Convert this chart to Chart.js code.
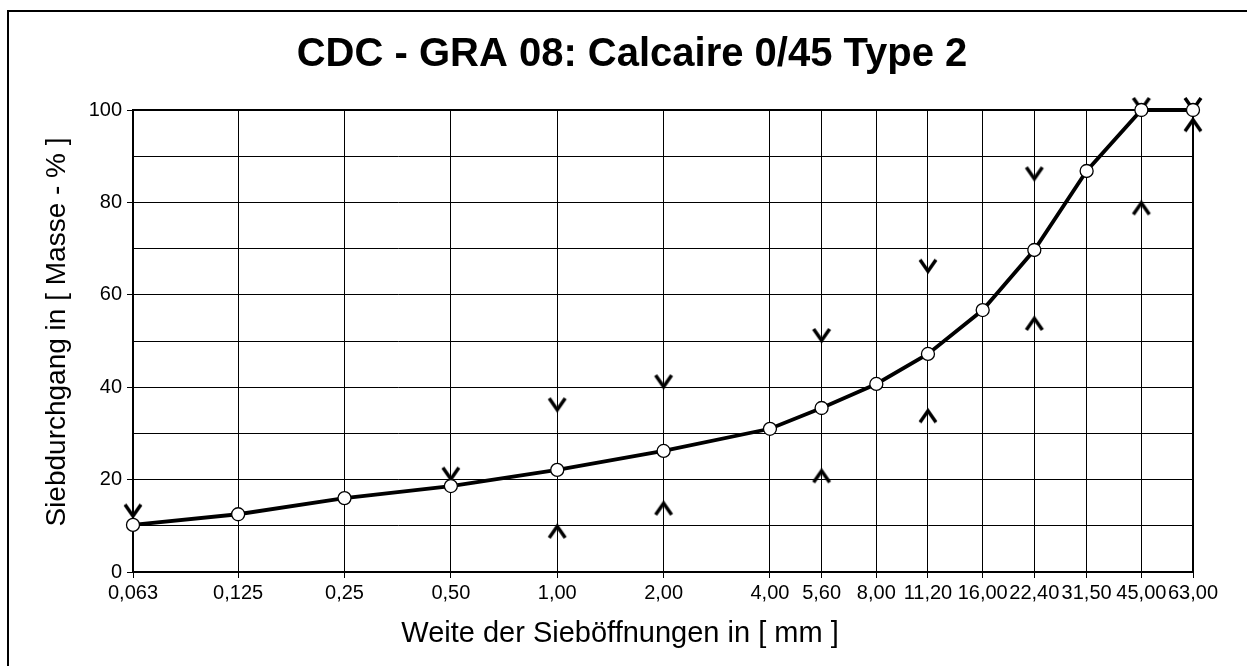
<!DOCTYPE html>
<html>
<head>
<meta charset="utf-8">
<script src="https://cdn.jsdelivr.net/npm/chart.js@4.4.1/dist/chart.umd.min.js"></script>
<style>
  html, body { margin: 0; padding: 0; background: #fff; }
</style>
</head>
<body>
<canvas id="sieveChart" width="1247" height="666"></canvas>
<script>
// ── 데이터 ──
var sieves      = [0.063, 0.125, 0.25, 0.5, 1, 2, 4, 5.6, 8, 11.2, 16, 22.4, 31.5, 45, 63];
var sieveLabels = ["0,063", "0,125", "0,25", "0,50", "1,00", "2,00", "4,00", "5,60", "8,00", "11,20", "16,00", "22,40", "31,50", "45,00", "63,00"];
var passing     = [10.2, 12.5, 16.0, 18.6, 22.1, 26.2, 31.0, 35.5, 40.7, 47.2, 56.7, 69.7, 86.8, 100, 100];
var upperX      = [0.063, 0.5, 1, 2, 5.6, 11.2, 22.4, 45, 63];
var upperY      = [12, 20, 35, 40, 50, 65, 85, 100, 100];
var lowerX      = [1, 2, 5.6, 11.2, 22.4, 45, 63];
var lowerY      = [10, 15, 22, 35, 55, 80, 98];

var chartTitle = "CDC - GRA 08: Calcaire 0/45 Type 2";
var xTitle     = "Weite der Sieböffnungen in [ mm ]";
var yTitle     = "Siebdurchgang in [ Masse - % ]";

var FONT = "'Liberation Sans', Arial, sans-serif";
Chart.defaults.font.family = FONT;
Chart.defaults.color = "#000";

function pairs(xs, ys) {
  return xs.map(function(x, i) { return { x: x, y: ys[i] }; });
}

// 꺾쇠 마커 (꼭짓점 = 값 위치)
function chevron(up) {
  var c = document.createElement("canvas");
  c.width = 30; c.height = 30;
  var g = c.getContext("2d");
  g.strokeStyle = "#000";
  g.lineWidth = 3.5;
  g.beginPath();
  if (up) { g.moveTo(7, 27); g.lineTo(15, 15.5); g.lineTo(23, 27); }
  else    { g.moveTo(7, 3);  g.lineTo(15, 14.5); g.lineTo(23, 3);  }
  g.stroke();
  return c;
}

var framePlugin = {
  id: "frame",
  beforeDraw: function(chart) {
    var ctx = chart.ctx;
    ctx.save();
    ctx.fillStyle = "#fff";
    ctx.fillRect(0, 0, chart.width, chart.height);
    ctx.strokeStyle = "#000";
    ctx.lineWidth = 2;
    ctx.beginPath();
    ctx.moveTo(8, chart.height);
    ctx.lineTo(8, 11);
    ctx.lineTo(chart.width, 11);
    ctx.stroke();
    ctx.restore();
  },
  beforeDatasetsDraw: function(chart) {
    var a = chart.chartArea, ctx = chart.ctx;
    ctx.save();
    ctx.strokeStyle = "#000";
    ctx.lineWidth = 2;
    ctx.strokeRect(a.left, a.top, a.right - a.left, a.bottom - a.top);
    ctx.restore();
  },
  afterDraw: function(chart) {
    var ctx = chart.ctx;
    ctx.save();
    ctx.fillStyle = "#000";
    ctx.textAlign = "center";
    ctx.textBaseline = "middle";
    ctx.font = "bold 40px " + FONT;
    ctx.fillText(chartTitle, 632, 55);
    ctx.font = "29px " + FONT;
    ctx.fillText(xTitle, 620, 634);
    ctx.translate(57, 332);
    ctx.rotate(-Math.PI / 2);
    ctx.font = "28px " + FONT;
    ctx.fillText(yTitle, 0, 0);
    ctx.restore();
  }
};

new Chart(document.getElementById("sieveChart").getContext("2d"), {
  type: "line",
  data: {
    datasets: [
      {
        label: "Siebdurchgang",
        data: pairs(sieves, passing),
        borderColor: "#000", borderWidth: 3.8,
        pointRadius: 6.5, pointBackgroundColor: "#fff",
        pointBorderColor: "#000", pointBorderWidth: 1.3,
        tension: 0,
        clip: false
      },
      {
        label: "Obergrenze",
        data: pairs(upperX, upperY),
        showLine: false, pointStyle: chevron(false), pointRadius: 10,
        clip: false
      },
      {
        label: "Untergrenze",
        data: pairs(lowerX, lowerY),
        showLine: false, pointStyle: chevron(true), pointRadius: 10,
        clip: false
      }
    ]
  },
  options: {
    responsive: false,
    animation: false,
    layout: { padding: { top: 110, right: 54, bottom: 0, left: 0 } },
    plugins: { legend: { display: false }, tooltip: { enabled: false }, title: { display: false } },
    scales: {
      x: {
        type: "logarithmic",
        min: 0.063, max: 63,
        afterBuildTicks: function(s) { s.ticks = sieves.map(function(v) { return { value: v }; }); },
        afterFit: function(s) { s.height = 94; s.paddingLeft = 0; s.paddingRight = 0; },
        ticks: {
          autoSkip: false, maxRotation: 0, minRotation: 0, padding: 3,
          font: { size: 20 }, color: "#000",
          callback: function(v, i) { return sieveLabels[i]; }
        },
        grid: { color: "#000", lineWidth: 1, tickLength: 6, tickColor: "#000" },
        border: { display: true, color: "#000", width: 2 },
        title: { display: false }
      },
      y: {
        min: 0, max: 100,
        afterFit: function(s) { s.width = 133; s.paddingTop = 0; s.paddingBottom = 0; },
        ticks: {
          stepSize: 10, padding: 5, font: { size: 20 }, color: "#000",
          callback: function(v) { return v % 20 === 0 ? v : ""; }
        },
        grid: {
          color: "#000", lineWidth: 1, tickLength: 6,
          tickColor: function(ctx) { return ctx.tick && ctx.tick.value % 20 === 0 ? "#000" : "rgba(0,0,0,0)"; }
        },
        border: { display: true, color: "#000", width: 2 },
        title: { display: false }
      }
    }
  },
  plugins: [framePlugin]
});
</script>
</body>
</html>
